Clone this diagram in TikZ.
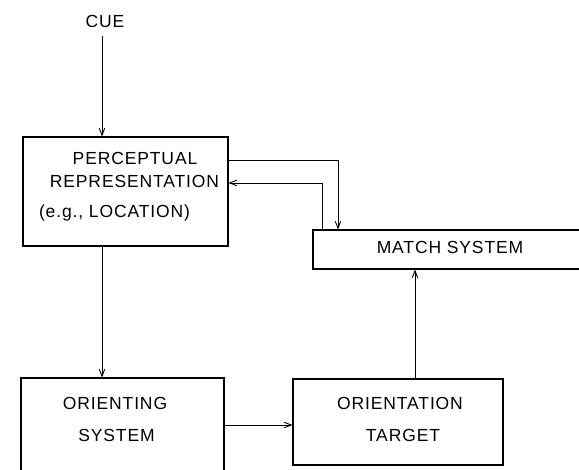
\documentclass[tikz,border=0pt]{standalone}
\usepackage{fontspec}
\setmainfont{Liberation Sans}[LetterSpace=5]
\usetikzlibrary{arrows.meta}
\begin{document}
\begin{tikzpicture}[x=1pt,y=-1pt,
  box/.style={draw, line width=1.1pt, rectangle, inner sep=0pt},
  lbl/.style={inner sep=0pt, font=\fontsize{17.5}{20}\selectfont},
  arr/.style={line width=0.9pt, -{Straight Barb[length=7pt,width=5.5pt]}}]
\useasboundingbox (0,0) rectangle (579,470);
\clip (0,0) rectangle (579,470);

% boxes
\node[box, minimum width=205pt, minimum height=109pt] (perc)   at (125.5,191.5) {};
\node[box, minimum width=203pt, minimum height=112pt] (orient) at (122.5,434) {};
\node[box, minimum width=210pt, minimum height=86pt]  (target) at (398,422) {};
\node[box, minimum width=287pt, minimum height=39pt]  (match)  at (456.5,249.5) {};

% labels
\node[lbl] (cue)   at (105,21)  {CUE};
\node[lbl] (p1)    at (135,158.5) {PERCEPTUAL};
\node[lbl] (p2)    at (134.5,181.5) {REPRESENTATION};
\node[lbl] (p3)    at (114.5,212.5) {(e.g., LOCATION)};
\node[lbl] (o1)    at (115,403.5) {ORIENTING};
\node[lbl] (o2)    at (116.5,435.5) {SYSTEM};
\node[lbl] (t1)    at (400,403.5) {ORIENTATION};
\node[lbl] (t2)    at (403,435.5) {TARGET};
\node[lbl] (m1)    at (450,247.5) {MATCH SYSTEM};

% guide coordinates for the connector routes
\coordinate (spine) at (102,0);
\coordinate (row)   at (0,425);
\coordinate (col)   at (415,0);
\coordinate (outy)  at (0,160);
\coordinate (outx)  at (338,0);
\coordinate (backy) at (0,183);
\coordinate (backx) at (322,0);

% connectors
\draw[arr] ([yshift=-9pt]cue.south -| spine) -- (perc.north -| spine);
\draw[arr] (perc.south -| spine) -- (orient.north -| spine);
\draw[arr] (orient.east |- row) -- (target.west |- row);
\draw[arr] (target.north -| col) -- (match.south -| col);
\draw[arr] (perc.east |- outy) -| (match.north -| outx);
\draw[arr] (match.north -| backx) |- (perc.east |- backy);
\end{tikzpicture}
\end{document}
